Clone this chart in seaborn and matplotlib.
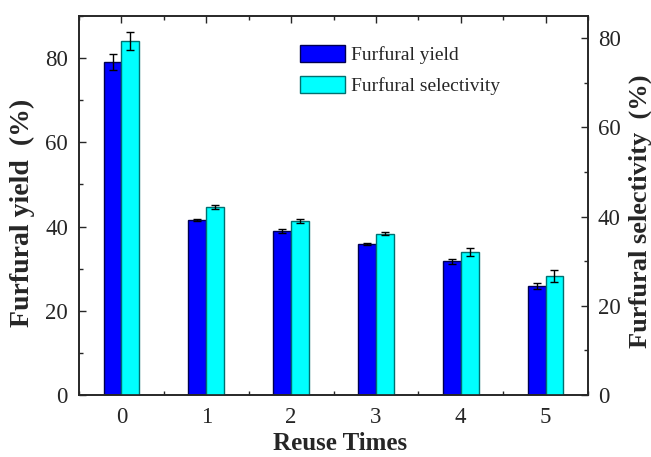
import matplotlib
matplotlib.use('Agg')
import matplotlib.pyplot as plt
from matplotlib.patches import Patch
from matplotlib.colors import to_rgba
from matplotlib.ticker import MultipleLocator
import pandas as pd
import seaborn as sns
import numpy as np

reuse_times = ['0', '1', '2', '3', '4', '5']
yield_vals = [79.1, 41.6, 39.0, 35.8, 31.7, 25.9]
yield_err = [1.9, 0.3, 0.5, 0.3, 0.7, 0.8]
select_vals = [79.3, 42.2, 39.0, 36.2, 32.1, 26.7]
select_err = [2.0, 0.4, 0.5, 0.3, 0.9, 1.4]
series = ['Furfural yield', 'Furfural selectivity']
colors = {'Furfural yield': '#0000ff', 'Furfural selectivity': '#00ffff'}
edges = {'Furfural yield': '#000050', 'Furfural selectivity': '#007070'}

sns.set_style('ticks')
plt.rcParams['font.family'] = ['Liberation Serif', 'DejaVu Serif']
plt.rcParams['axes.linewidth'] = 1.2

df_yield = pd.DataFrame({'Reuse Times': reuse_times, 'value': yield_vals,
                         'series': series[0]})
df_sel = pd.DataFrame({'Reuse Times': reuse_times, 'value': select_vals,
                       'series': series[1]})
# dummy NaN rows keep the dodge slot for the other series on each axis
df_left = pd.concat([df_yield, df_sel.assign(value=np.nan)], ignore_index=True)
df_right = pd.concat([df_yield.assign(value=np.nan), df_sel], ignore_index=True)

fig = plt.figure(figsize=(6.51, 4.57), dpi=100)
ax = fig.add_axes([0.1214, 0.1357, 0.7818, 0.8293])
ax2 = ax.twinx()


def draw(axis, data, name, errs):
    sns.barplot(data=data, x='Reuse Times', y='value', hue='series',
                hue_order=series, order=reuse_times, palette=colors,
                width=0.42, gap=0, errorbar=None, legend=False, ax=axis,
                edgecolor=edges[name], linewidth=1.0, saturation=1)
    target = to_rgba(colors[name])
    bars = [p for p in axis.patches
            if np.allclose(p.get_facecolor(), target)
            and np.isfinite(p.get_height()) and p.get_height() > 0]
    bars = sorted(bars, key=lambda p: p.get_x())
    xs = [p.get_x() + p.get_width() / 2 for p in bars]
    hs = [p.get_height() for p in bars]
    axis.errorbar(xs, hs, yerr=errs, fmt='none', ecolor='black',
                  elinewidth=1.0, capsize=3, capthick=1.0, zorder=5)


draw(ax, df_left, series[0], yield_err)
draw(ax2, df_right, series[1], select_err)

ax.set_xlim(-0.5, 5.5)
ax.set_ylim(0, 90)
ax2.set_ylim(0, 85)

ax.yaxis.set_major_locator(MultipleLocator(20))
ax.yaxis.set_minor_locator(MultipleLocator(10))
ax2.yaxis.set_major_locator(MultipleLocator(20))
ax2.yaxis.set_minor_locator(MultipleLocator(10))
ax.xaxis.set_minor_locator(MultipleLocator(0.5))

ax.tick_params(axis='both', which='both', direction='in', labelsize=16.5,
               top=True, width=1.0)
ax.tick_params(axis='both', which='major', length=5)
ax.tick_params(axis='both', which='minor', length=3)
ax.tick_params(axis='x', which='major', pad=9)
ax.tick_params(axis='y', which='major', pad=8)
ax.tick_params(axis='y', which='both', right=False)
ax2.tick_params(axis='y', which='both', direction='in', labelsize=16.5, width=1.0)
ax2.tick_params(axis='y', which='major', length=5, pad=7)
ax2.tick_params(axis='y', which='minor', length=3)

ax.set_xlabel('Reuse Times', fontsize=18, fontweight='bold')
ax.set_ylabel('Furfural yield  (%)', fontsize=20, fontweight='bold')
ax2.set_ylabel('Furfural selectivity  (%)', fontsize=19, fontweight='bold')
ax.xaxis.set_label_coords(0.512, -0.098)
ax.yaxis.set_label_coords(-0.087, 0.48)
ax2.yaxis.set_label_coords(1.079, 0.485)

handles = [Patch(facecolor=colors[s], edgecolor=edges[s], linewidth=1.0) for s in series]
ax.legend(handles, series, loc='upper left', bbox_to_anchor=(0.4, 0.97),
          frameon=False, fontsize=14, handlelength=2.3, handleheight=1.0,
          handletextpad=0.3, labelspacing=0.6)

for a in (ax, ax2):
    for s in a.spines.values():
        s.set_linewidth(1.2)

fig.savefig('out.png', dpi=100)
